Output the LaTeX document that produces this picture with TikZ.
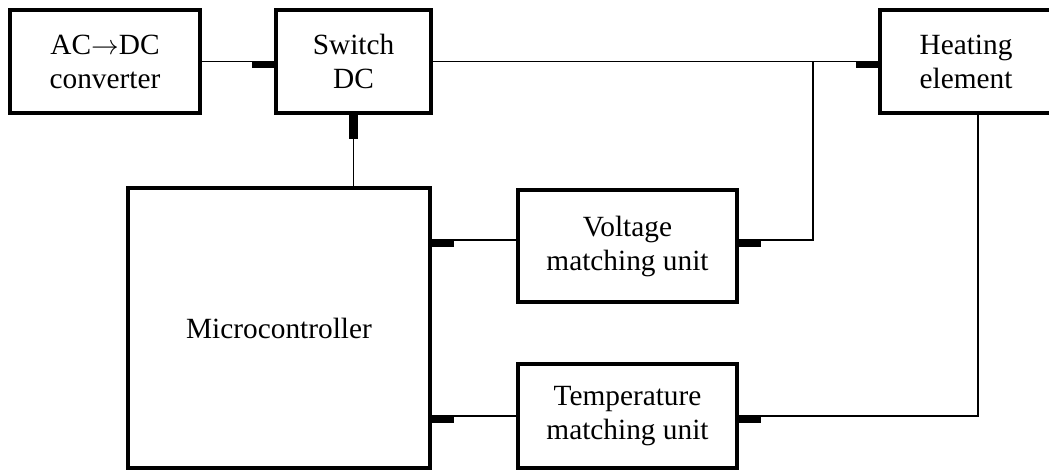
\documentclass[tikz,border=0pt]{standalone}
\usepackage{fontspec}
\setmainfont{Liberation Serif}
\usetikzlibrary{calc}
\begin{document}
\begin{tikzpicture}[x=0.75pt,y=-0.75pt,
  box/.style={draw, line width=2.6pt, align=center, inner sep=0pt,
    font=\fontsize{22}{25.5}\selectfont},
  wire/.style={line width=1.05pt},
  stub/.style={fill=black}]
\useasboundingbox (0,0) rectangle (1049,471);
% blocks
\node[box, minimum width=190*0.75pt, minimum height=103*0.75pt] (ac) at (105,61.5) {AC$\rightarrow$DC\\converter};
\node[box, minimum width=155*0.75pt, minimum height=103*0.75pt] (sw) at (353.5,61.5) {Switch\\DC};
\node[box, minimum width=172*0.75pt, minimum height=103*0.75pt] (he) at (966,61.5) {Heating\\element};
\node[box, minimum width=302*0.75pt, minimum height=280*0.75pt] (mc) at (279,328) {Microcontroller};
\node[box, minimum width=219*0.75pt, minimum height=112*0.75pt] (vm) at (627.5,246) {Voltage\\matching unit};
\node[box, minimum width=219*0.75pt, minimum height=104*0.75pt] (tm) at (627.5,416) {Temperature\\matching unit};
% helper coordinates
\coordinate (yv) at (0,240);
\coordinate (j) at (813,61.5);
\coordinate (hx) at (978,0);
% wires
\draw[wire] (ac.east) -- (sw.west);
\draw[wire] (sw.east) -- (he.west);
\draw[wire] (j) |- (vm.east |- yv);
\draw[wire] (mc.east |- yv) -- (vm.west |- yv);
\draw[wire] (mc.east |- tm.west) -- (tm.west);
\draw[wire] (he.south -| hx) |- (tm.east);
\draw[wire] (sw.south) -- (sw.south |- mc.north);
% input stubs
\fill[stub] ($(sw.west)+(-22,-1)$) rectangle ($(sw.west)+(0,6.5)$);
\fill[stub] ($(he.west)+(-22,-1)$) rectangle ($(he.west)+(0,6.5)$);
\fill[stub] ($(sw.south)+(-4.5,0)$) rectangle ($(sw.south)+(4.5,24)$);
\fill[stub] ($(mc.east |- yv)+(0,-0.5)$) rectangle ($(mc.east |- yv)+(22,7)$);
\fill[stub] ($(mc.east |- tm.west)+(0,-0.5)$) rectangle ($(mc.east |- tm.west)+(22,7)$);
\fill[stub] ($(vm.east |- yv)+(0,-0.5)$) rectangle ($(vm.east |- yv)+(22,7)$);
\fill[stub] ($(tm.east)+(0,-0.5)$) rectangle ($(tm.east)+(22,7)$);
\end{tikzpicture}
\end{document}
